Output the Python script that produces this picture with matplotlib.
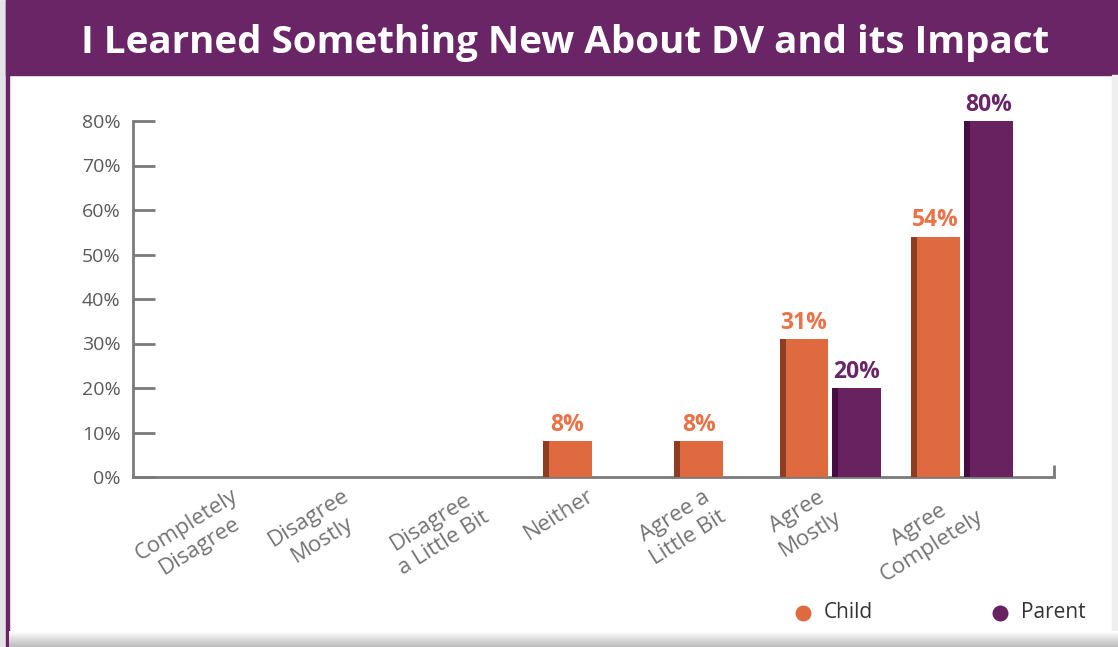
import matplotlib
matplotlib.use("Agg")
import matplotlib.pyplot as plt
import numpy as np
from matplotlib.patches import Rectangle

categories = ["Completely\nDisagree", "Disagree\nMostly", "Disagree\na Little Bit", "Neither",
              "Agree a\nLittle Bit", "Agree\nMostly", "Agree\nCompletely"]
child = [0, 0, 0, 8, 8, 31, 54]
parent = [0, 0, 0, 0, 0, 20, 80]
yticks = [0, 10, 20, 30, 40, 50, 60, 70, 80]
title = "I Learned Something New About DV and its Impact"

CHILD = "#DF6A40"
CHILD_D = "#8E3D23"
CHILD_T = "#EA7148"
PAR = "#67225F"
PAR_D = "#470C43"
PURPLE = "#6A2567"
GRAY = "#7A7A7C"

plt.rcParams['font.family'] = ['Open Sans', 'DejaVu Sans']

W, H = 1118, 647
fig = plt.figure(figsize=(W/100, H/100), dpi=100)
fig.patch.set_facecolor("white")

def fx(px):
    return px / W
def fy(py):
    return 1 - py / H

# frame decorations
bg = fig.add_axes([0, 0, 1, 1], zorder=0)
bg.set_xlim(0, W); bg.set_ylim(H, 0); bg.axis("off")
bg.add_patch(Rectangle((0, 0), 6, H, color="#E4E4E6"))
bg.add_patch(Rectangle((6, 0), 3, H, color=PURPLE))
bg.add_patch(Rectangle((6, 0), W - 6, 75, color=PURPLE))
bg.add_patch(Rectangle((1112, 75), 6, H - 75, color="#EFEFEF"))
for i in range(16):
    g = 1 - (i / 16) * 0.28
    bg.add_patch(Rectangle((9, 631 + i), W - 9, 1, color=(g, g, g), lw=0))
bg.text(565, 43, title, color="white", fontsize=27.7, fontweight="bold",
        ha="center", va="center")

# main axes
x0, x1 = 133, 1054
y0, y1 = 477, 121
ax = fig.add_axes([fx(x0), fy(y0), fx(x1) - fx(x0), (y0 - y1) / H], zorder=2)
ax.patch.set_alpha(0)
ax.set_ylim(0, 80)
ax.set_xlim(-0.3, 6.7)

x = np.arange(len(categories))
w = 0.37
off = 0.2
stripe = 0.045
for i in range(len(categories)):
    c, p = child[i], parent[i]
    if c > 0 and p > 0:
        xc, xp = x[i] - off, x[i] + off
    else:
        xc = xp = x[i]
    if c > 0:
        ax.bar(xc, c, width=w, color=CHILD, zorder=3)
        ax.bar(xc - w / 2 + stripe / 2, c, width=stripe, color=CHILD_D, zorder=4)
        ax.text(xc, c + 1.0, f"{c}%", ha="center", va="bottom", color=CHILD_T,
                fontsize=16.5, fontweight="bold", zorder=5)
    if p > 0:
        ax.bar(xp, p, width=w, color=PAR, zorder=3)
        ax.bar(xp - w / 2 + stripe / 2, p, width=stripe, color=PAR_D, zorder=4)
        ax.text(xp, p + 1.0, f"{p}%", ha="center", va="bottom", color=PURPLE,
                fontsize=16.5, fontweight="bold", zorder=5)

for s in ["top", "right"]:
    ax.spines[s].set_visible(False)
for s in ["left", "bottom"]:
    ax.spines[s].set_color(GRAY)
    ax.spines[s].set_linewidth(2)
ax.set_yticks(yticks)
ax.set_yticklabels([f"{t}%" for t in yticks], color="#5A5A5C", fontsize=14)
ax.tick_params(axis="y", direction="in", length=16, width=2, color=GRAY, pad=9)
ax.set_xticks(0.16 + 0.927 * x)
ax.set_xticklabels(categories, rotation=32, ha="center", va="top",
                   rotation_mode="default", color="#747476", fontsize=16,
                   linespacing=1.25)
ax.tick_params(axis="x", length=0, pad=6)
# right-end upward tick
ax.plot([6.7, 6.7], [0, 2.8], color=GRAY, lw=2, clip_on=False, solid_capstyle="butt", zorder=6)

# legend
bg.scatter([803], [613], s=110, color=CHILD, zorder=3)
bg.text(824, 612, "Child", fontsize=15, color="#333333", va="center", ha="left")
bg.scatter([1000], [613], s=110, color=PAR, zorder=3)
bg.text(1021, 612, "Parent", fontsize=15, color="#333333", va="center", ha="left")

fig.savefig("out.png", dpi=100)
